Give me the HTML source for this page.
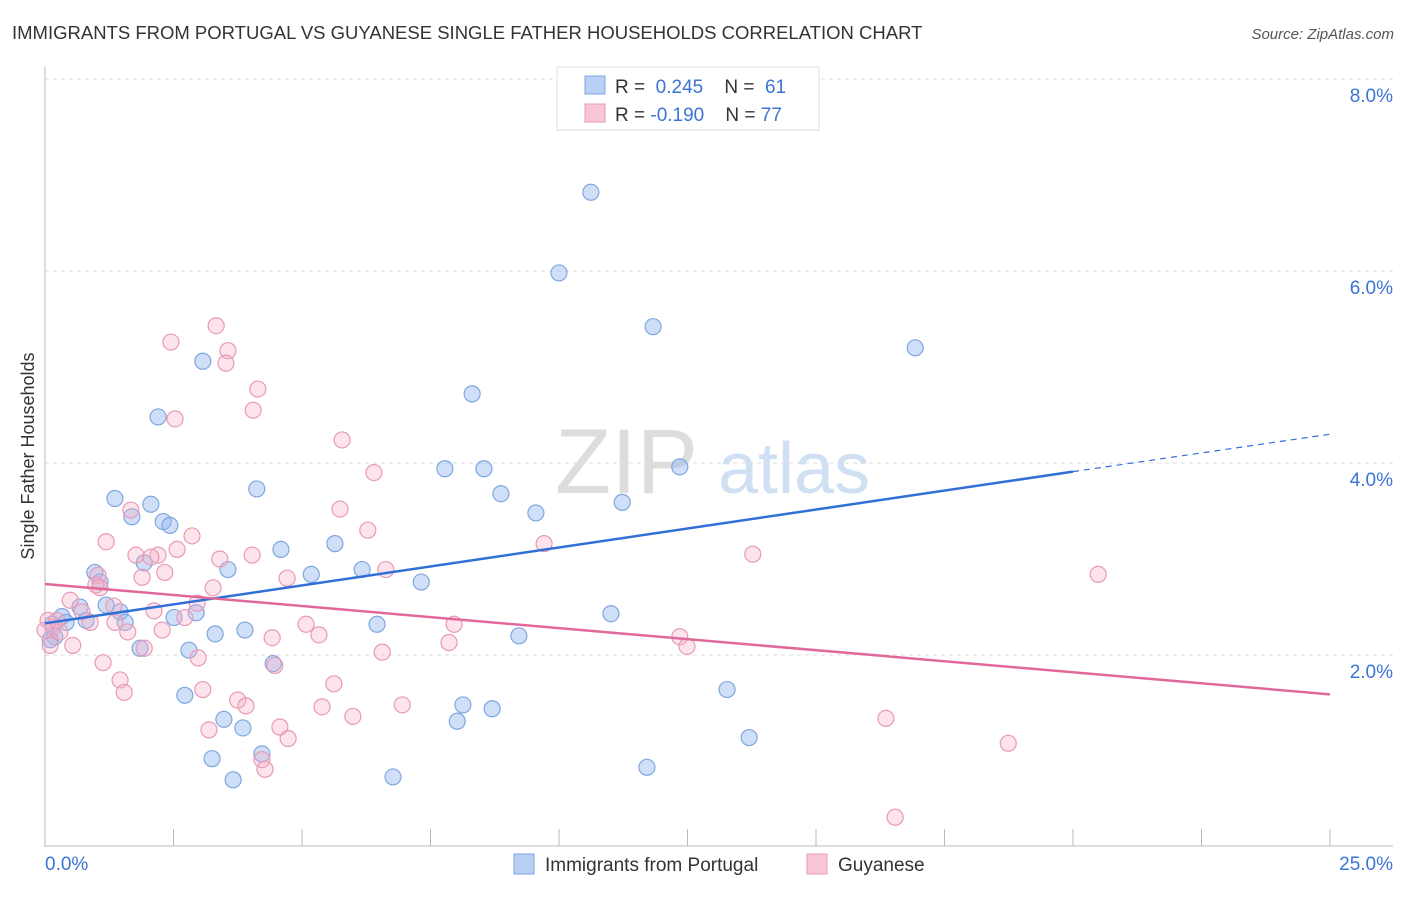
<!DOCTYPE html>
<html><head><meta charset="utf-8"><style>
body{margin:0;background:#fff;font-family:"Liberation Sans",sans-serif;}
svg text{font-family:"Liberation Sans",sans-serif;}
</style></head><body>
<svg id="chart" width="1406" height="892" viewBox="0 0 1406 892" xmlns="http://www.w3.org/2000/svg">
<text x="12" y="39" font-size="18.5" fill="#333">IMMIGRANTS FROM PORTUGAL VS GUYANESE SINGLE FATHER HOUSEHOLDS CORRELATION CHART</text>
<text x="1394" y="39" font-size="15" fill="#555" font-style="italic" text-anchor="end">Source: ZipAtlas.com</text>
<text x="555" y="493" font-size="92" fill="#ddd" font-family="Liberation Serif">ZIP</text>
<text x="718" y="493" font-size="72" fill="#cfe0f3">atlas</text>
<text transform="translate(34,456) rotate(-90)" font-size="18" fill="#333" text-anchor="middle">Single Father Households</text>
<g id="grid"></g><g id="axes"></g><g id="pts"></g><g id="lines"></g>
<g>
<rect x="557" y="67" width="262" height="63" fill="#fff" stroke="#ddd"/>
<rect x="585" y="76" width="20" height="18" fill="#b9d0f5" stroke="#7fa6e0"/>
<rect x="585" y="104" width="20" height="18" fill="#f9c6d6" stroke="#e89ab5"/>
<text x="615" y="93" font-size="19" fill="#333">R = <tspan fill="#3b74d4">&#160;0.245</tspan>&#160;&#160;&#160;&#160;N = <tspan fill="#3b74d4">&#160;61</tspan></text>
<text x="615" y="121" font-size="19" fill="#333">R = <tspan fill="#3b74d4">-0.190</tspan>&#160;&#160;&#160;&#160;N = <tspan fill="#3b74d4">77</tspan></text>
</g>
<g>
<rect x="514" y="854" width="20" height="20" fill="#b9d0f5" stroke="#7fa6e0"/>
<text x="545" y="871" font-size="19" fill="#333">Immigrants from Portugal</text>
<rect x="807" y="854" width="20" height="20" fill="#f9c6d6" stroke="#e89ab5"/>
<text x="838" y="871" font-size="19" fill="#333">Guyanese</text>
</g>
</svg>
<script>
const yTicks=[2,4,6,8];
const yTickLabels=["2.0%","4.0%","6.0%","8.0%"];
const xTicks=[2.5,5,7.5,10,12.5,15,17.5,20,22.5,25];
const xEndLabels=["0.0%","25.0%"];
const blueX=[10.62,10.00,11.83,16.93,3.07,8.31,2.20,7.78,8.54,12.35,4.12,8.87,1.36,2.06,11.23,1.69,9.55,2.30,2.43,4.59,5.64,1.93,0.97,3.56,5.18,6.17,1.07,7.32,1.19,0.68,1.46,2.94,2.51,11.01,6.46,0.33,0.80,1.56,0.14,0.41,3.31,3.89,9.22,0.19,1.85,2.80,4.44,2.72,13.27,8.13,8.70,3.48,8.02,3.85,4.22,13.70,3.25,11.71,3.66,6.77,0.10];
const blueY=[6.82,5.98,5.42,5.20,5.06,4.72,4.48,3.94,3.94,3.96,3.73,3.68,3.63,3.57,3.59,3.44,3.48,3.39,3.35,3.10,3.16,2.96,2.86,2.89,2.84,2.89,2.76,2.76,2.52,2.50,2.45,2.44,2.39,2.43,2.32,2.40,2.36,2.34,2.32,2.34,2.22,2.26,2.20,2.19,2.07,2.05,1.91,1.58,1.64,1.48,1.44,1.33,1.31,1.24,0.97,1.14,0.92,0.83,0.70,0.73,2.16];
const pinkX=[3.33,2.45,3.56,3.52,4.14,4.05,2.53,5.78,6.40,1.67,5.74,6.28,1.19,2.86,1.77,2.20,2.06,2.57,3.40,4.03,9.71,13.77,1.89,2.33,1.03,4.71,6.63,20.49,1.07,3.27,2.96,1.34,2.12,0.49,0.72,1.36,0.88,2.72,5.08,7.96,2.28,1.61,5.33,4.42,12.35,12.49,7.86,6.56,1.93,0.54,0.16,0.06,1.13,2.98,4.47,1.46,1.54,3.07,5.62,3.75,3.91,5.39,6.95,5.99,16.36,3.19,4.57,4.73,18.74,4.22,4.28,16.54,0.29,0.23,0.99,0.00,0.10];
const pinkY=[5.43,5.26,5.17,5.04,4.77,4.55,4.46,4.24,3.90,3.51,3.52,3.30,3.18,3.24,3.04,3.04,3.02,3.10,3.00,3.04,3.16,3.05,2.81,2.86,2.83,2.80,2.89,2.84,2.70,2.70,2.54,2.51,2.46,2.57,2.45,2.34,2.34,2.39,2.32,2.32,2.26,2.24,2.21,2.18,2.19,2.09,2.13,2.03,2.07,2.10,2.29,2.36,1.92,1.97,1.89,1.74,1.61,1.64,1.70,1.53,1.47,1.46,1.48,1.36,1.34,1.22,1.25,1.13,1.08,0.91,0.81,0.31,2.24,2.36,2.73,2.26,2.10];
const blueTrend=[2.33,3.91,4.30];
const blueTrendX=[0,20,25];
const pinkTrend=[2.74,1.59];
const pinkTrendX=[0,25];

const NS="http://www.w3.org/2000/svg";
const X0=45,X1=1330,Y0=847,PXY=96;
const sx=v=>X0+(X1-X0)*v/25;
const sy=v=>Y0-PXY*v;
function mk(tag,attrs,parent){const e=document.createElementNS(NS,tag);for(const k in attrs)e.setAttribute(k,attrs[k]);document.getElementById(parent).appendChild(e);return e;}

yTicks.forEach((t,i)=>{
  const l=mk('line',{x1:45,x2:1393,y1:sy(t),y2:sy(t),stroke:'#ddd','stroke-dasharray':'4,4'},'grid');
  
  
  const tx=mk('text',{x:1393,y:sy(t)+23,'font-size':19,fill:'#3b74d4','text-anchor':'end'},'grid');
  tx.textContent=yTickLabels[i];
  
  
});
const topGrid=mk('line',{x1:45,x2:1393,y1:79,y2:79,stroke:'#ddd','stroke-dasharray':'4,4'},'grid');


const ya=mk('line',{x1:45,x2:45,y1:67,y2:847,stroke:'#bbb'},'axes');


const xa=mk('line',{x1:45,x2:1393,y1:846,y2:846,stroke:'#bbb'},'axes');


xTicks.forEach(t=>{
  const l=mk('line',{x1:sx(t),x2:sx(t),y1:829,y2:846,stroke:'#bbb'},'axes');
  
  
});
const xl0=mk('text',{x:45,y:870,'font-size':19,fill:'#3b74d4'},'axes');xl0.textContent=xEndLabels[0];


const xl1=mk('text',{x:1393,y:870,'font-size':19,fill:'#3b74d4','text-anchor':'end'},'axes');xl1.textContent=xEndLabels[1];



blueX.forEach((v,i)=>{
  const c=mk('circle',{cx:sx(v),cy:sy(blueY[i]),r:8,fill:'rgba(150,185,240,0.45)',stroke:'#7fa6e0','stroke-width':1.2},'pts');
  
  
});
pinkX.forEach((v,i)=>{
  const c=mk('circle',{cx:sx(v),cy:sy(pinkY[i]),r:8,fill:'rgba(245,175,200,0.35)',stroke:'#e89ab5','stroke-width':1.2},'pts');
  
  
});
const b1=mk('line',{x1:sx(blueTrendX[0]),y1:sy(blueTrend[0]),x2:sx(blueTrendX[1]),y2:sy(blueTrend[1]),stroke:'#2f6fd6','stroke-width':2.5},'lines');


const b2=mk('line',{x1:sx(blueTrendX[1]),y1:sy(blueTrend[1]),x2:sx(blueTrendX[2]),y2:sy(blueTrend[2]),stroke:'#2f6fd6','stroke-width':1.2,'stroke-dasharray':'6,5'},'lines');


const p1=mk('line',{x1:sx(pinkTrendX[0]),y1:sy(pinkTrend[0]),x2:sx(pinkTrendX[1]),y2:sy(pinkTrend[1]),stroke:'#e0699a','stroke-width':2.5},'lines');


</script>
</body></html>
